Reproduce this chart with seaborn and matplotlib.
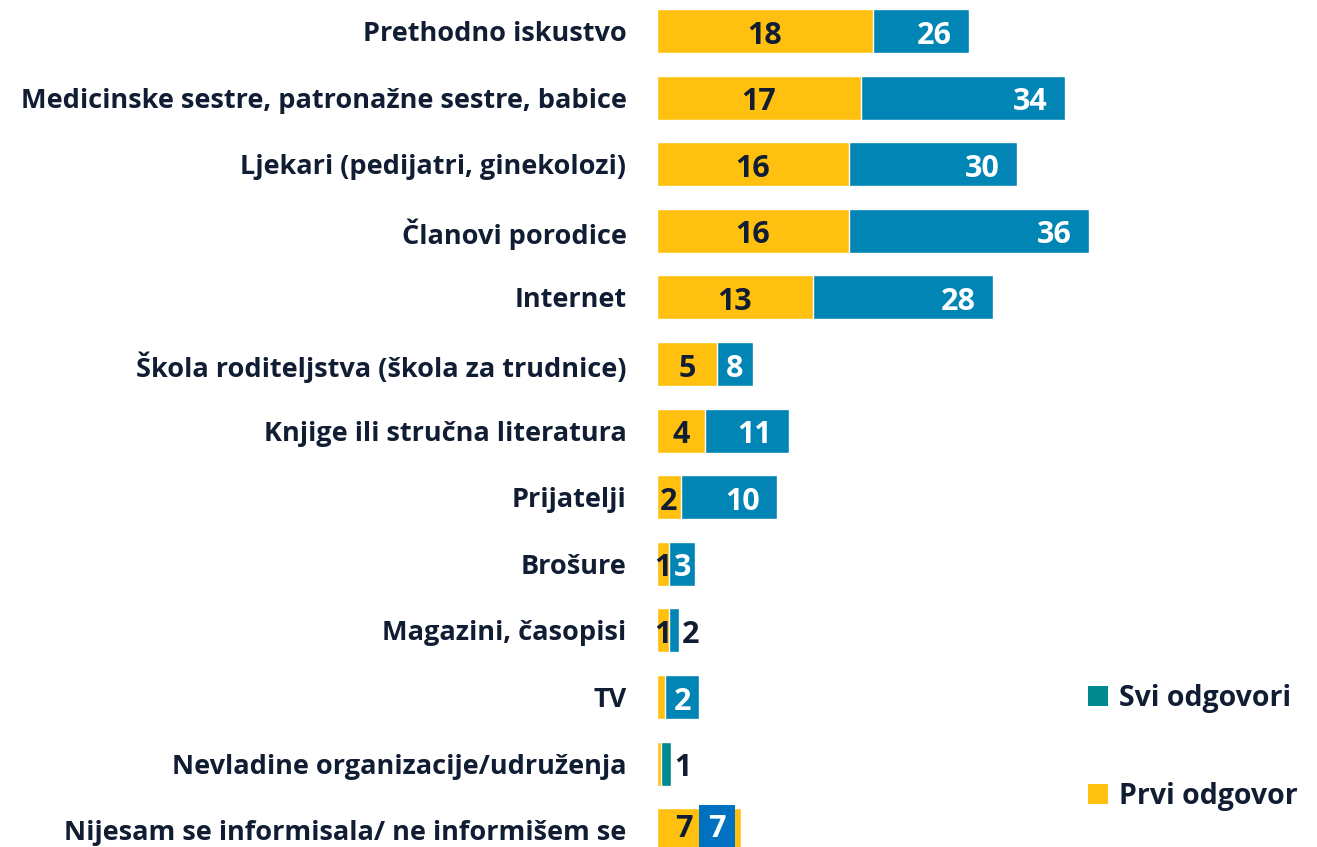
import matplotlib
matplotlib.use("Agg")
import matplotlib.pyplot as plt
from matplotlib.patches import Patch
import seaborn as sns
import pandas as pd

categories = [
    "Prethodno iskustvo",
    "Medicinske sestre, patronažne sestre, babice",
    "Ljekari (pedijatri, ginekolozi)",
    "Članovi porodice",
    "Internet",
    "Škola roditeljstva (škola za trudnice)",
    "Knjige ili stručna literatura",
    "Prijatelji",
    "Brošure",
    "Magazini, časopisi",
    "TV",
    "Nevladine organizacije/udruženja",
    "Nijesam se informisala/ ne informišem se",
]
prvi_odgovor = [18, 17, 16, 16, 13, 5, 4, 2, 1, 1, 0.7, 0.3, 7]
svi_odgovori = [26, 34, 30, 36, 28, 8, 11, 10, 3.2, 1.8, 3.5, 1.2, 7]
prvi_labels = ["18", "17", "16", "16", "13", "5", "4", "2", "1", "1", "", "", "7"]
svi_labels = ["26", "34", "30", "36", "28", "8", "11", "10", "3", "2", "2", "1", "7"]

YELLOW = "#FFC010"
BLUE = "#0085B5"
TEAL = "#00898F"
BLUE2 = "#0070C0"
DARK = "#111D33"
svi_colors = [BLUE] * 11 + [TEAL, BLUE2]

df = pd.DataFrame({"cat": categories, "prvi": prvi_odgovor, "svi": svi_odgovori})

sns.set_theme(style="white")
plt.rcParams["font.family"] = ["Open Sans", "DejaVu Sans"]

W, H = 1317, 847
fig = plt.figure(figsize=(W / 100, H / 100), dpi=100)
x0 = 657
ax = fig.add_axes([x0 / W, 0, 1 - x0 / W, 1])

sns.barplot(data=df, y="cat", x="svi", hue="cat", palette=svi_colors, legend=False,
            width=0.66, saturation=1, ax=ax, orient="h")
sns.barplot(data=df, y="cat", x="prvi", color=YELLOW, width=0.66, saturation=1,
            ax=ax, orient="h")

ppu = 12.0
ax.set_xlim(0, (W - x0) / ppu)
row = 66.6
ax.set_ylim((H - 31) / row, -31 / row)
for s in ax.spines.values():
    s.set_visible(False)
ax.set_xticks([])
ax.set_ylabel("")
ax.set_xlabel("")
ax.tick_params(axis="y", length=0, pad=22)
ax.set_yticks(range(len(categories)))
ax.set_yticklabels(categories, fontsize=19.5, fontweight="bold", color=DARK)

vfs = 22
for i, (p, s, pl, sl) in enumerate(zip(prvi_odgovor, svi_odgovori, prvi_labels, svi_labels)):
    seg = s - p
    dy = 0.07 if i < len(categories) - 1 else -0.02
    if pl:
        px = p / 2 if seg > 0 else p * 0.32
        ax.text(px, i + dy, pl, ha="center", va="center", fontsize=vfs,
                fontweight="bold", color=DARK)
    if seg <= 0:
        ax.text(s - 2.0, i + dy, sl, ha="center", va="center", fontsize=vfs,
                fontweight="bold", color="white",
                bbox=dict(boxstyle="square,pad=0.3", fc=BLUE2, ec="none"))
    elif seg < 1.6:
        ax.text(s + 0.25, i + dy, sl, ha="left", va="center", fontsize=vfs,
                fontweight="bold", color=DARK)
    else:
        xpos = max(s - 2.9, p + seg / 2)
        ax.text(xpos, i + dy, sl, ha="center", va="center", fontsize=vfs,
                fontweight="bold", color="white")

handles = [Patch(facecolor=TEAL, edgecolor="none", label="Svi odgovori"),
           Patch(facecolor=YELLOW, edgecolor="none", label="Prvi odgovor")]
leg = ax.legend(handles=handles, loc="upper left",
                bbox_to_anchor=((1062 - x0) / (W - x0), 1 - 658 / H),
                frameon=False, handlelength=0.7, handleheight=0.7, handletextpad=0.4,
                labelspacing=2.45, prop={"size": 20.5, "weight": "bold"})
for t in leg.get_texts():
    t.set_color(DARK)

fig.savefig("out.png", dpi=100)
